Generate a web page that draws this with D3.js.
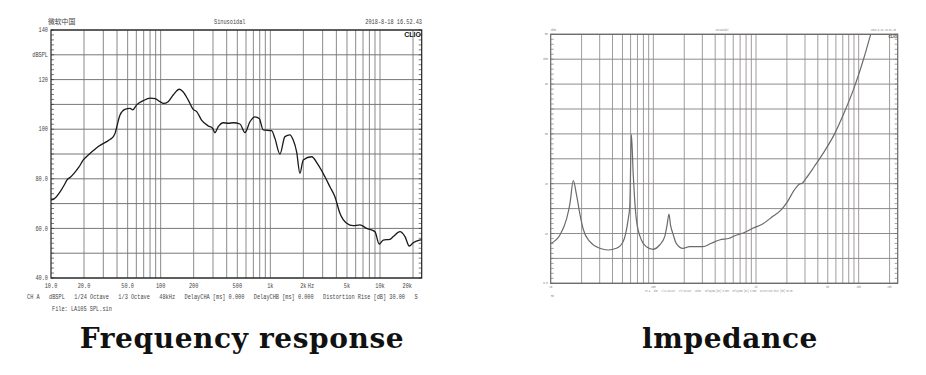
<!DOCTYPE html>
<html>
<head>
<meta charset="utf-8">
<script src="https://cdn.jsdelivr.net/npm/d3@7"></script>
<style>
  body { margin: 0; background: #fff; }
  svg { display: block; }
</style>
</head>
<body>
<div id="chart-section"></div>
<script>
// ---- data -----------------------------------------------------------
// frequency response, Hz / dBSPL
var splFreq = [10, 10.6, 12, 13.2, 14, 15, 16.5, 18, 19.7, 21.9, 24.5, 27, 32.2, 35, 37, 38.5, 39.8, 42.6, 47.2, 52.5, 55.6,
  60.4, 69.4, 80, 89, 98.6, 106, 117, 130, 148, 160, 178, 198, 213, 236, 272, 297, 312, 335, 372, 414,
  459, 528, 587, 652, 724, 792, 861, 1028, 1101, 1223, 1359, 1509, 1617, 1737, 1861, 1995, 2380, 2733,
  3147, 3494, 3880, 4310, 4962, 5697, 6559, 7550, 8986, 9833, 10700, 12300, 13200, 15200, 16900, 18500,
  20100, 23100, 24000];
var splVal = [71.5, 71.8, 74.5, 77.5, 79.6, 80.6, 82.6, 84.8, 87.6, 89.6, 91.5, 93.0, 95.0, 96.0, 97.0, 98.5, 101.0, 105.7, 108.0, 108.4, 107.8,
  109.8, 111.5, 112.5, 112.3, 111.1, 110.4, 111.1, 113.8, 116.1, 115.1, 111.8, 108.0, 107.1, 103.7, 101.3, 100.4, 98.6, 101.0, 102.6, 102.4,
  102.6, 102.1, 98.6, 103.0, 105.0, 104.3, 99.7, 99.4, 96.3, 90.0, 97.0, 97.7, 95.6, 90.9, 82.2, 87.6, 88.9, 85.6,
  80.8, 76.8, 72.8, 66.1, 62.1, 61.1, 61.4, 60.0, 58.7, 53.7, 55.3, 55.6, 56.7, 58.7, 56.7, 52.9,
  54.2, 55.3, 55.5];

// impedance, Hz / Ohm
var impFreq = [10, 12.3, 14.3, 15.4, 16.6, 17.9, 19.3, 20.7, 24.1, 30.1, 36.2, 43.7, 50.7, 56.7, 58.9, 61.1, 63.7, 65.8, 68.4, 76.5,
  85.5, 99.1, 115, 129, 136, 142, 147, 155, 167, 194, 225, 303, 366, 440, 551, 593, 800, 927, 1159, 1450,
  1748, 2027, 2354, 2633, 2815, 3078, 3681, 4604, 5757, 7200, 9002, 11260, 13100, 14400];
var impVal = [8.0, 9.7, 13.0, 16.0, 20.6, 17.6, 13.8, 10.9, 8.35, 7.03, 6.69, 7.03, 8.35, 12.7, 15.4, 29.9, 21.7, 16.7, 12.7, 8.7,
  7.35, 6.83, 7.69, 9.36, 11.7, 13.9, 11.7, 10.0, 8.03, 7.03, 7.35, 7.35, 8.03, 8.7, 9.04, 9.36, 10.36, 11.04, 11.9, 13.4,
  14.7, 16.4, 18.7, 19.9, 20.1, 21.1, 23.4, 26.4, 29.8, 34.2, 39.2, 45.3, 50, 52.9];

var gridFreqs = [20, 30, 40, 50, 60, 70, 80, 90, 100, 200, 300, 400, 500, 600, 700, 800, 900,
  1000, 2000, 3000, 4000, 5000, 6000, 7000, 8000, 9000, 10000, 20000];
var splXTicks = [10, 20, 50, 100, 200, 500, 1000, 2000, 5000, 10000, 20000];
var splXLabels = ["10.0", "20.0", "50.0", "100", "200", "500", "1k", "2k", "5k", "10k", "20k"];
var splYTicks = [140, 130, 120, 110, 100, 90, 80, 70, 60, 50, 40];
var splYLabels = ["140", "dBSPL", "120", "", "100", "", "80.0", "", "60.0", "", "40.0"];
var impXTicks = [10, 100, 1000, 5000, 10000, 20000];
var impXLabels = ["10", "100", "1k", "5k", "10k", "20k"];
var impYTicks = [50, 45, 40, 35, 30, 25, 20, 15, 10, 5, 0];
var impYLabels = ["50", "Ohm", "40", "", "30", "", "20", "", "10", "", "0.0"];
var captions = ["Frequency response", "lmpedance"];

// ---- settings -------------------------------------------------------
var svgScreen = { width: 926, height: 375 };
var splBox = { left: 51, right: 421.7, top: 30, bottom: 278 };
var impBox = { left: 550.7, right: 897.7, top: 34.3, bottom: 283.3 };
var monoFont = "'Liberation Mono', 'DejaVu Sans Mono', monospace";

var svg = d3.select("#chart-section").append("svg")
  .attr("width", svgScreen.width)
  .attr("height", svgScreen.height);

// monospace text squeezed to a fixed char width, like the CLIO print
var monoText = function(g, x, y, str, charW, size, anchor, color) {
  var t = g.append("text")
    .attr("x", x).attr("y", y)
    .attr("font-family", monoFont)
    .attr("font-size", size)
    .attr("fill", color || "#444")
    .attr("text-anchor", anchor || "start")
    .attr("xml:space", "preserve")
    .text(str);
  if (str.length > 0) {
    t.attr("textLength", str.length * charW).attr("lengthAdjust", "spacingAndGlyphs");
  }
  return t;
};

var drawPanel = function(opt) {
  var box = opt.box;
  var g = svg.append("g").attr("class", opt.name);
  var xScale = d3.scaleLog().domain([10, 24000]).range([box.left, box.right]);
  var yScale = d3.scaleLinear().domain(opt.yDomain).range([box.bottom, box.top]);

  // vertical grid
  g.append("g").selectAll("line").data(gridFreqs).enter().append("line")
    .attr("x1", function(d) { return xScale(d); })
    .attr("x2", function(d) { return xScale(d); })
    .attr("y1", box.top).attr("y2", box.bottom)
    .attr("stroke", opt.vGrid).attr("stroke-width", 1);

  // horizontal grid
  g.append("g").selectAll("line").data(opt.yTicks).enter().append("line")
    .attr("x1", box.left).attr("x2", box.right)
    .attr("y1", function(d) { return yScale(d); })
    .attr("y2", function(d) { return yScale(d); })
    .attr("stroke", opt.hGrid).attr("stroke-width", 1);

  // minor ticks, left and right edges
  var minor = d3.range(opt.yDomain[0], opt.yDomain[1] + 0.001, opt.minorStep);
  [box.left, box.right - 3].forEach(function(x0) {
    g.append("g").selectAll("line").data(minor).enter().append("line")
      .attr("x1", x0).attr("x2", x0 + 3)
      .attr("y1", function(d) { return yScale(d); })
      .attr("y2", function(d) { return yScale(d); })
      .attr("stroke", opt.border).attr("stroke-width", 0.6);
  });

  // frame
  g.append("rect")
    .attr("x", box.left).attr("y", box.top)
    .attr("width", box.right - box.left).attr("height", box.bottom - box.top)
    .attr("fill", "none").attr("stroke", opt.border).attr("stroke-width", 1.2);

  // curve
  g.append("clipPath").attr("id", "clip-" + opt.name).append("rect")
    .attr("x", box.left).attr("y", box.top)
    .attr("width", box.right - box.left).attr("height", box.bottom - box.top);
  var line = d3.line()
    .x(function(d, i) { return xScale(opt.freq[i]); })
    .y(function(d) { return yScale(d); })
    .curve(d3.curveMonotoneX);
  g.append("path")
    .datum(opt.vals)
    .attr("clip-path", "url(#clip-" + opt.name + ")")
    .attr("fill", "none")
    .attr("stroke", opt.curveColor)
    .attr("stroke-width", opt.curveWidth)
    .attr("stroke-linejoin", "round")
    .attr("d", line);

  // axis labels
  opt.yTicks.forEach(function(v, i) {
    monoText(g, box.left - 3, yScale(v) + opt.fs * 0.35, opt.yLabels[i], opt.cw, opt.fs, "end", opt.textColor);
  });
  opt.xTicks.forEach(function(v, i) {
    var x = xScale(v);
    var anchor = "middle";
    if (i === opt.xTicks.length - 1 && opt.lastEnd) { anchor = "end"; x = x - 1; }
    monoText(g, x, box.bottom + opt.xLabelGap, opt.xLabels[i], opt.cw, opt.fs, anchor, opt.textColor);
  });
  return { x: xScale, y: yScale, g: g };
};

// ---- left: frequency response ---------------------------------------
var left = drawPanel({
  name: "spl", box: splBox, yDomain: [40, 140], yTicks: splYTicks, yLabels: splYLabels,
  xTicks: splXTicks, xLabels: splXLabels, freq: splFreq, vals: splVal,
  vGrid: "#8a8a8a", hGrid: "#777", border: "#222", minorStep: 2,
  curveColor: "#1a1a1a", curveWidth: 1.3, cw: 3.15, fs: 6.5, textColor: "#444",
  xLabelGap: 10, lastEnd: true
});
monoText(left.g, 311, splBox.bottom + 10, "Hz", 3.15, 6.5, "middle");
left.g.append("text").attr("x", 48).attr("y", 23.5)
  .attr("font-family", "'Noto Sans CJK SC'").attr("font-size", 6.8).attr("fill", "#444")
  .text("微软中国");
monoText(left.g, 214, 23.5, "Sinusoidal", 3.15, 6.5);
monoText(left.g, 422, 23.5, "2018-8-18 16.52.43", 3.15, 6.5, "end");
left.g.append("text").attr("x", 421).attr("y", 36.5)
  .attr("font-family", "'Liberation Sans', Arial, sans-serif").attr("font-weight", "bold")
  .attr("font-size", 7).attr("text-anchor", "end").attr("fill", "#111")
  .text("CLIO");
monoText(left.g, 27, 299,
  "CH A   dBSPL   1/24 Octave   1/3 Octave   48kHz   DelayCHA [ms] 0.000   DelayCHB [ms] 0.000   Distortion Rise [dB] 30.00   S",
  3.15, 6.5);
monoText(left.g, 52, 311, "File: LA10S SPL.sin", 3.15, 6.5);

// ---- right: impedance -----------------------------------------------
var right = drawPanel({
  name: "imp", box: impBox, yDomain: [0, 50], yTicks: impYTicks, yLabels: impYLabels,
  xTicks: impXTicks, xLabels: impXLabels, freq: impFreq, vals: impVal,
  vGrid: "#a09c9c", hGrid: "#8f8b8b", border: "#6a6666", minorStep: 1,
  curveColor: "#6b6b6b", curveWidth: 1.2, cw: 1.5, fs: 3.2, textColor: "#777",
  xLabelGap: 5, lastEnd: false
});
monoText(right.g, 551, 30.5, "Ohm", 1.6, 3.2, "start", "#777");
monoText(right.g, 722, 30.5, "Sinusoidal", 1.3, 3.2, "middle", "#777");
monoText(right.g, 896, 30.5, "2018-8-18 16.52.43", 1.4, 3.2, "end", "#777");
right.g.append("text").attr("x", 897).attr("y", 38)
  .attr("font-family", "'Liberation Sans', Arial, sans-serif").attr("font-weight", "bold")
  .attr("font-size", 3.6).attr("text-anchor", "end").attr("fill", "#333")
  .text("CLIO");
monoText(right.g, 551, 297, "Hz", 1.6, 3.2, "start", "#777");
monoText(right.g, 645, 292,
  "CH A   Ohm   1/24 Octave   1/3 Octave   48kHz   DelayCHA [ms] 0.000   DelayCHB [ms] 0.000   Distortion Rise [dB] 30.00",
  1.25, 3.2, "start", "#888");

// ---- captions -------------------------------------------------------
var captionX = [242, 730];
captions.forEach(function(c, i) {
  svg.append("text")
    .attr("x", captionX[i]).attr("y", 348)
    .attr("text-anchor", "middle")
    .attr("font-family", "'DejaVu Serif', serif")
    .attr("font-weight", "bold")
    .attr("font-size", 28)
    .attr("letter-spacing", 0.6)
    .attr("fill", "#111")
    .text(c);
});
</script>
</body>
</html>
